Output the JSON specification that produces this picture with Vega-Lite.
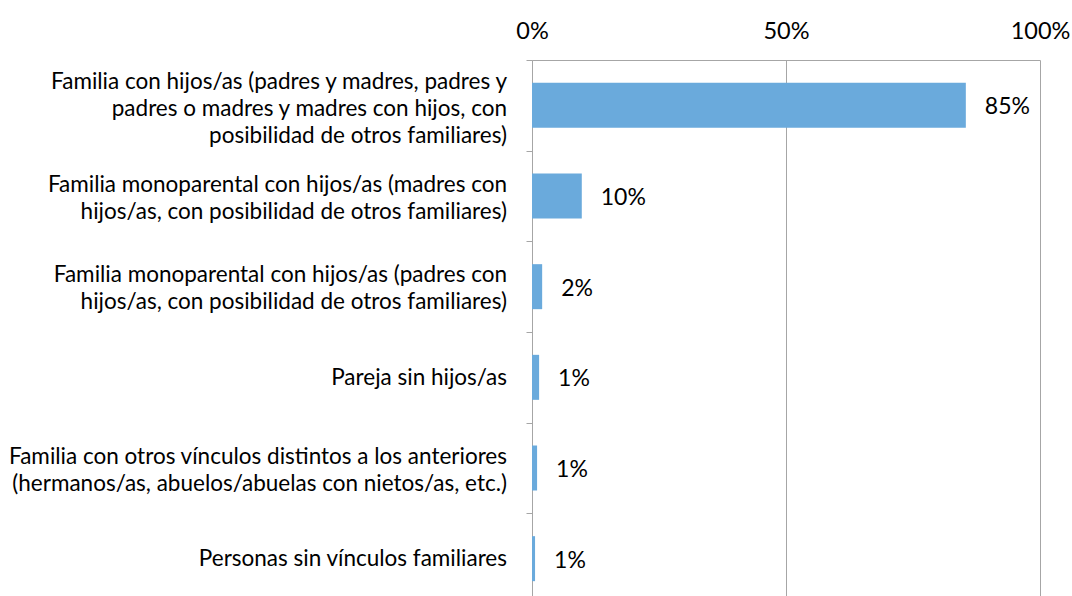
{
  "$schema": "https://vega.github.io/schema/vega-lite/v6.json",
  "width": 508,
  "height": 544,
  "autosize": {"type": "none"},
  "padding": {"left": 532, "top": 60, "right": 32, "bottom": 0},
  "background": "white",
  "config": {"view": {"stroke": null}, "font": "Lato"},
  "data": {
    "values": [
      {"cat": "Familia con hijos/as (padres y madres, padres y|padres o madres y madres con hijos, con|posibilidad de otros familiares)", "value": 85.4, "label": "85%"},
      {"cat": "Familia monoparental con hijos/as (madres con|hijos/as, con posibilidad de otros familiares)", "value": 9.8, "label": "10%"},
      {"cat": "Familia monoparental con hijos/as (padres con|hijos/as, con posibilidad de otros familiares)", "value": 2.0, "label": "2%"},
      {"cat": "Pareja sin hijos/as", "value": 1.4, "label": "1%"},
      {"cat": "Familia con otros vínculos distintos a los anteriores|(hermanos/as, abuelos/abuelas con nietos/as, etc.)", "value": 1.0, "label": "1%"},
      {"cat": "Personas sin vínculos familiares", "value": 0.6, "label": "1%"}
    ]
  },
  "encoding": {
    "y": {
      "field": "cat",
      "type": "nominal",
      "sort": null,
      "scale": {"paddingInner": 0, "paddingOuter": 0},
      "axis": {
        "title": null,
        "labels": false,
        "tickBand": "extent",
        "tickSize": 6,
        "tickColor": "#a6a6a6",
        "domainColor": "#a6a6a6",
        "grid": false
      }
    }
  },
  "layer": [
    {
      "mark": {"type": "bar", "color": "#6aaadc", "size": 45},
      "encoding": {
        "x": {
          "field": "value",
          "type": "quantitative",
          "scale": {"domain": [0, 100], "nice": false},
          "axis": {
            "orient": "top",
            "title": null,
            "values": [0, 50, 100],
            "labelExpr": "datum.value + '%'",
            "labelFontSize": 23.5,
            "labelColor": "#000000",
            "labelPadding": 17,
            "ticks": false,
            "domainColor": "#a6a6a6",
            "gridColor": "#a6a6a6",
            "grid": true,
            "labelFlush": false
          }
        }
      }
    },
    {
      "mark": {"type": "text", "align": "left", "baseline": "middle", "dx": 19, "dy": 2, "fontSize": 23, "color": "#000000"},
      "encoding": {
        "x": {"field": "value", "type": "quantitative"},
        "text": {"field": "label"}
      }
    },
    {
      "transform": [{"calculate": "length(split(datum.cat, '|'))", "as": "nlines"}],
      "mark": {"type": "text", "align": "right", "baseline": "middle", "dx": -25, "fontSize": 22.5, "lineHeight": 27, "lineBreak": "|", "color": "#000000"},
      "encoding": {
        "x": {"datum": 0, "type": "quantitative"},
        "yOffset": {"field": "nlines", "type": "quantitative", "scale": {"domain": [1, 3], "range": [46, 22]}},
        "text": {"field": "cat"}
      }
    }
  ]
}
